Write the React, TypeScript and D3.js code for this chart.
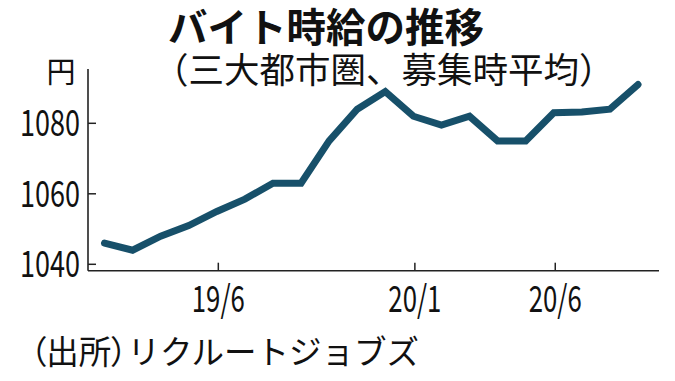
import React from "react";
import * as d3 from "d3";

const months = [
  "19/2", "19/3", "19/4", "19/5", "19/6", "19/7", "19/8", "19/9", "19/10", "19/11",
  "19/12", "20/1", "20/2", "20/3", "20/4", "20/5", "20/6", "20/7", "20/8", "20/9",
];
const wages = [
  1046, 1044, 1048, 1051, 1055, 1058.5, 1063, 1063, 1075, 1084,
  1089, 1082, 1079.5, 1082, 1075, 1075, 1083, 1083.2, 1084, 1091,
];
const yTicks = [1040, 1060, 1080];
const xTickLabels = ["19/6", "20/1", "20/6"];

const W = 675;
const H = 381;
const FONT = "'Noto Sans CJK JP', 'Noto Sans', sans-serif";
const LINE = "#17506a";

export default function App() {
  const x = d3.scaleLinear().domain([0, months.length - 1]).range([104.5, 638]);
  const y = d3.scaleLinear().domain([1040, 1080]).range([264.3, 123.3]);
  const axisX0 = 88;
  const axisX1 = 659;
  const axisY = 270.7;
  const axisTop = 69;

  const line = d3
    .line<number>()
    .x((_, i) => x(i))
    .y((d) => y(d))
    .curve(d3.curveLinear);

  return (
    <svg
      width={W}
      height={H}
      style={{ position: "absolute", left: 0, top: 0, background: "#fff" }}
      fontFamily={FONT}
    >
      <rect x={0} y={0} width={W} height={H} fill="#fff" />
      <text x={326} y={41.5} textAnchor="middle" fontSize={39.5} fontWeight={700} fill="#111">
        バイト時給の推移
      </text>
      <text x={153} y={83} fontSize={35.5} fill="#111">
        （三大都市圏、募集時平均）
      </text>
      <text x={61} y={83} textAnchor="middle" fontSize={29} fill="#111">
        円
      </text>

      {yTicks.map((t) => (
        <g key={t}>
          <line x1={axisX0} x2={axisX0 + 8} y1={y(t)} y2={y(t)} stroke="#222" strokeWidth={1.5} />
          <text
            x={80}
            y={y(t) + 13}
            textAnchor="end"
            fontSize={37}
            fill="#111"
            textLength={60}
            lengthAdjust="spacingAndGlyphs"
          >
            {t}
          </text>
        </g>
      ))}

      {xTickLabels.map((lab) => {
        const i = months.indexOf(lab);
        const px = x(i) + 1.5;
        return (
          <g key={lab}>
            <line x1={px} x2={px} y1={axisY} y2={axisY - 8} stroke="#222" strokeWidth={1.5} />
            <text
              x={px}
              y={312}
              textAnchor="middle"
              fontSize={37}
              fill="#111"
              textLength={53}
              lengthAdjust="spacingAndGlyphs"
            >
              {lab}
            </text>
          </g>
        );
      })}

      <line x1={axisX0} x2={axisX0} y1={axisTop} y2={axisY} stroke="#222" strokeWidth={1.6} />
      <line x1={axisX0} x2={axisX1} y1={axisY} y2={axisY} stroke="#222" strokeWidth={1.6} />

      <path
        d={line(wages) || ""}
        fill="none"
        stroke={LINE}
        strokeWidth={7}
        strokeLinejoin="miter"
        strokeLinecap="round"
      />

      <text x={30} y={364} fontSize={32.5} fill="#111">
        <tspan style={{ fontFeatureSettings: "'palt'" }}>（出所）</tspan>
        <tspan>リクルートジョブズ</tspan>
      </text>
    </svg>
  );
}
